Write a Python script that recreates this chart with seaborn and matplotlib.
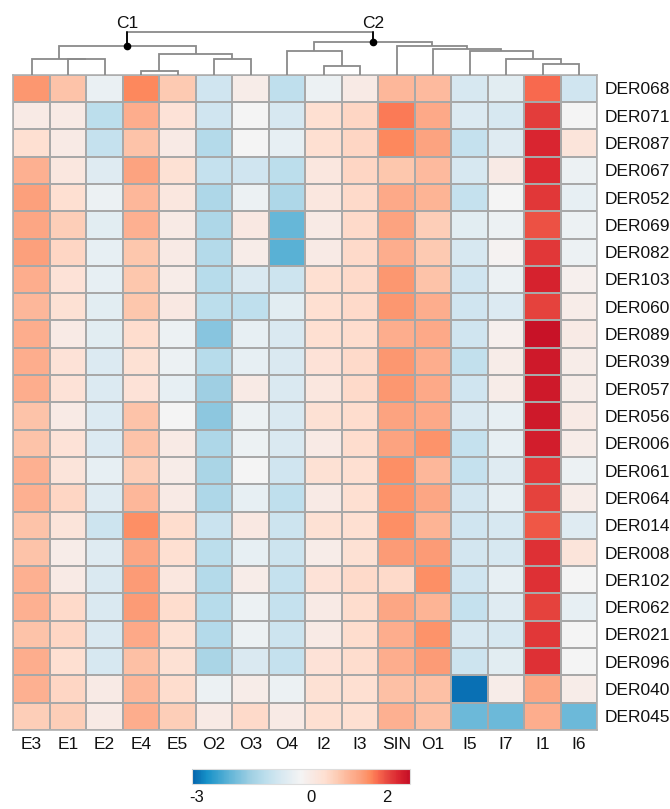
import numpy as np
import pandas as pd
import matplotlib
matplotlib.use("Agg")
import matplotlib.pyplot as plt
from matplotlib.colors import LinearSegmentedColormap
import seaborn as sns

# ---- data -------------------------------------------------------------
samples = ["E3", "E1", "E2", "E4", "E5", "O2", "O3", "O4",
           "I2", "I3", "SIN", "O1", "I5", "I7", "I1", "I6"]

features = ["DER068", "DER071", "DER087", "DER067", "DER052", "DER069",
            "DER082", "DER103", "DER060", "DER089", "DER039", "DER057",
            "DER056", "DER006", "DER061", "DER064", "DER014", "DER008",
            "DER102", "DER062", "DER021", "DER096", "DER040", "DER045"]

# scaled abundance, one row per feature, columns follow `samples`
DER068 = [1.40, 0.80, -0.45, 1.55, 0.70, -0.90, -0.05, -1.15, -0.40, 0.00, 0.95, 0.90, -0.80, -0.60, 1.75, -0.90]
DER071 = [0.00, 0.00, -1.20, 1.10, 0.25, -0.90, -0.27, -0.80, 0.35, 0.50, 1.65, 1.15, -0.70, -0.80, 2.10, -0.27]
DER087 = [0.35, 0.00, -1.05, 0.80, 0.00, -1.30, -0.27, -0.50, 0.35, 0.50, 1.55, 1.25, -1.05, -0.65, 2.30, 0.20]
DER067 = [1.05, 0.10, -0.65, 1.25, 0.30, -1.05, -0.90, -1.20, 0.10, 0.50, 0.75, 0.90, -0.80, 0.00, 2.25, -0.40]
DER052 = [1.30, 0.35, -0.40, 0.95, 0.10, -1.40, -0.40, -1.40, 0.10, 0.45, 1.15, 1.00, -1.05, -0.27, 2.15, -0.50]
DER069 = [1.20, 0.65, -0.60, 1.05, 0.00, -1.40, 0.05, -2.10, 0.00, 0.45, 1.25, 0.65, -0.60, -0.40, 1.95, -0.40]
DER082 = [1.30, 0.50, -0.50, 0.75, 0.00, -1.30, -0.05, -2.20, 0.00, 0.45, 1.10, 0.70, -0.80, -0.20, 2.15, -0.40]
DER103 = [1.10, 0.25, -0.50, 0.75, -0.05, -1.25, -0.75, -0.95, 0.35, 0.45, 1.40, 0.80, -0.90, -0.40, 2.35, -0.15]
DER060 = [0.95, 0.30, -0.60, 0.75, 0.05, -1.20, -1.15, -0.60, 0.35, 0.45, 1.40, 1.10, -0.90, -0.70, 2.05, -0.05]
DER089 = [1.10, 0.00, -0.60, 0.40, -0.40, -1.80, -0.50, -0.75, 0.35, 0.40, 1.10, 1.15, -0.90, -0.15, 2.55, 0.00]
DER039 = [1.10, 0.25, -0.70, 0.30, -0.40, -1.25, -0.50, -0.75, 0.25, 0.45, 1.40, 1.10, -1.10, -0.05, 2.45, -0.05]
DER057 = [1.10, 0.25, -0.70, 0.25, -0.50, -1.60, 0.00, -0.75, 0.10, 0.45, 1.40, 1.15, -0.90, -0.05, 2.45, -0.05]
DER056 = [0.80, 0.00, -0.70, 0.80, -0.27, -1.75, -0.40, -0.75, 0.30, 0.40, 1.25, 1.15, -0.75, -0.50, 2.45, 0.00]
DER006 = [0.80, 0.25, -0.70, 0.80, 0.00, -1.40, -0.40, -0.75, 0.00, 0.40, 1.25, 1.45, -1.05, -0.50, 2.40, -0.05]
DER061 = [1.05, 0.20, -0.50, 0.65, -0.05, -1.45, -0.27, -0.90, 0.30, 0.35, 1.50, 0.95, -1.05, -0.65, 2.15, -0.40]
DER064 = [1.05, 0.50, -0.65, 0.95, 0.00, -1.40, -0.50, -1.15, 0.00, 0.35, 1.45, 1.20, -0.85, -0.50, 2.05, -0.05]
DER014 = [0.80, 0.20, -0.95, 1.50, 0.40, -1.00, 0.05, -0.95, 0.30, 0.35, 1.50, 1.00, -0.90, -0.80, 1.90, -0.65]
DER008 = [0.80, -0.05, -0.65, 1.20, 0.35, -1.20, -0.50, -0.95, -0.05, 0.30, 1.35, 1.35, -0.85, -0.80, 2.20, 0.20]
DER102 = [1.05, 0.00, -0.75, 1.35, 0.10, -1.30, -0.05, -1.05, 0.25, 0.45, 0.45, 1.50, -0.90, -0.50, 2.20, -0.27]
DER062 = [1.05, 0.45, -0.75, 1.35, 0.40, -1.25, -0.40, -1.05, 0.00, 0.40, 1.20, 1.00, -1.05, -0.65, 2.05, -0.50]
DER021 = [0.80, 0.50, -0.75, 1.15, 0.30, -1.30, -0.40, -0.95, 0.00, 0.40, 1.10, 1.45, -0.80, -0.80, 2.15, -0.27]
DER096 = [1.10, 0.35, -0.80, 0.85, 0.30, -1.45, -0.75, -1.05, 0.25, 0.40, 1.10, 1.35, -0.95, -0.60, 2.20, -0.27]
DER040 = [1.05, 0.50, 0.00, 0.95, 0.40, -0.40, -0.05, -0.40, 0.30, 0.35, 0.85, 0.85, -3.00, -0.05, 1.20, -0.05]
DER045 = [0.65, 0.65, 0.00, 1.10, 0.65, 0.00, 0.45, 0.00, 0.35, 0.35, 1.05, 0.85, -2.05, -2.05, 1.10, -2.05]

rows = [DER068, DER071, DER087, DER067, DER052, DER069, DER082, DER103,
        DER060, DER089, DER039, DER057, DER056, DER006, DER061, DER064,
        DER014, DER008, DER102, DER062, DER021, DER096, DER040, DER045]

# column clustering: (left, right, height); str = sample, int = earlier merge
merges = [
    ("E1", "E2", 15.4),   # 0
    ("E3", 0, 16.0),      # 1
    ("E4", "E5", 4.0),    # 2
    ("O2", "O3", 16.0),   # 3
    (2, 3, 21.0),         # 4
    (1, 4, 28.7),         # 5  -> C1
    ("I2", "I3", 9.0),    # 6
    ("O4", 6, 24.0),      # 7
    ("I1", "I6", 10.4),   # 8
    ("I7", 8, 15.4),      # 9
    ("I5", 9, 24.0),      # 10
    ("O1", 10, 25.4),     # 11
    ("SIN", 11, 28.7),    # 12
    (7, 12, 33.0),        # 13 -> C2
    (5, 13, 42.4),        # 14 root
]
cluster_labels = {5: "C1", 13: "C2"}

vmin, vmax = -3.13, 2.6
cbar_ticks = [-3, 0, 2]

# colour ramp anchors (value, colour)
ramp = [(-3.13, "#0362ab"), (-2.75, "#1691c8"), (-2.1, "#66b7d8"),
        (-1.6, "#9fcfe3"), (-1.2, "#bcdeec"), (-0.8, "#d7e8f1"),
        (-0.27, "#f4f4f4"), (0.0, "#f8eae5"), (0.35, "#fee0d2"),
        (0.7, "#fdcbb3"), (1.05, "#fdb091"), (1.35, "#fc9c78"),
        (1.55, "#fd8a5e"), (1.75, "#f96c4f"), (2.05, "#e5433e"),
        (2.3, "#da2630"), (2.6, "#c50f26")]

# ---- figure -----------------------------------------------------------
sns.set_theme(style="white")
plt.rcParams["font.family"] = ["Liberation Sans", "DejaVu Sans"]

W, H = 670, 809
fig = plt.figure(figsize=(W / 100, H / 100), dpi=100)

def frac_box(x0, y0, x1, y1):
    return [x0 / W, 1 - y1 / H, (x1 - x0) / W, (y1 - y0) / H]

hm_x0, hm_x1, hm_y0, hm_y1 = 13.3, 597.3, 74.7, 730.0
dendro_top = 10.0

ax = fig.add_axes(frac_box(hm_x0, hm_y0, hm_x1, hm_y1))
ax_d = fig.add_axes(frac_box(hm_x0, dendro_top, hm_x1, hm_y0))
cax = fig.add_axes(frac_box(192, 769, 410, 784))

cmap = LinearSegmentedColormap.from_list(
    "expr", [((v - vmin) / (vmax - vmin), c) for v, c in ramp])

df = pd.DataFrame(rows, index=features, columns=samples)

sns.heatmap(df, ax=ax, cmap=cmap, vmin=vmin, vmax=vmax,
            linewidths=1.1, linecolor="#a8a8a8",
            cbar_ax=cax,
            cbar_kws={"orientation": "horizontal", "ticks": cbar_ticks})

ax.yaxis.tick_right()
ax.tick_params(axis="y", length=0, pad=5, labelsize=12.5, rotation=0)
ax.tick_params(axis="x", length=0, pad=5, labelsize=12.5, rotation=0)
for lab in ax.get_yticklabels():
    lab.set_rotation(0)
    lab.set_color("#111111")
for lab in ax.get_xticklabels():
    lab.set_color("#111111")
ax.set_xlabel("")
ax.set_ylabel("")
for sp in ["left", "right", "top", "bottom"]:
    ax.spines[sp].set_visible(True)
    ax.spines[sp].set_color("#b0b0b0")
    ax.spines[sp].set_linewidth(1.2)

# colorbar styling
cbar = ax.collections[0].colorbar
cbar.ax.tick_params(length=0, labelsize=12, pad=4, colors="#111111")
cbar.outline.set_edgecolor("#dddddd")
cbar.outline.set_linewidth(0.8)
cbar.ax.set_xticklabels([str(t) for t in cbar_ticks])

# ---- dendrogram -------------------------------------------------------
pos = {}
ht = {}
for i, s in enumerate(samples):
    pos[s] = i + 0.5
    ht[s] = 0.0
for k, (a, b, h) in enumerate(merges):
    xa, xb = pos[a], pos[b]
    ha, hb = ht[a], ht[b]
    ax_d.plot([xa, xa, xb, xb], [ha, h, h, hb],
              color="#8a8a8a", lw=1.3, solid_capstyle="butt",
              solid_joinstyle="miter")
    pos[k] = (xa + xb) / 2
    ht[k] = h

for k, name in cluster_labels.items():
    x, h = pos[k], ht[k]
    parent_h = None
    for j, (a, b, hh) in enumerate(merges):
        if a == k or b == k:
            parent_h = hh
    ax_d.plot([x, x], [h, parent_h], color="black", lw=1.3)
    ax_d.plot(x, h, "o", color="black", ms=4.5)
    ax_d.text(x, parent_h + 1.5, name, ha="center", va="bottom",
              fontsize=12.5, color="#111111")

ax_d.set_xlim(0, len(samples))
ax_d.set_ylim(0, hm_y0 - dendro_top)
ax_d.axis("off")

fig.savefig("out.png", dpi=100)
